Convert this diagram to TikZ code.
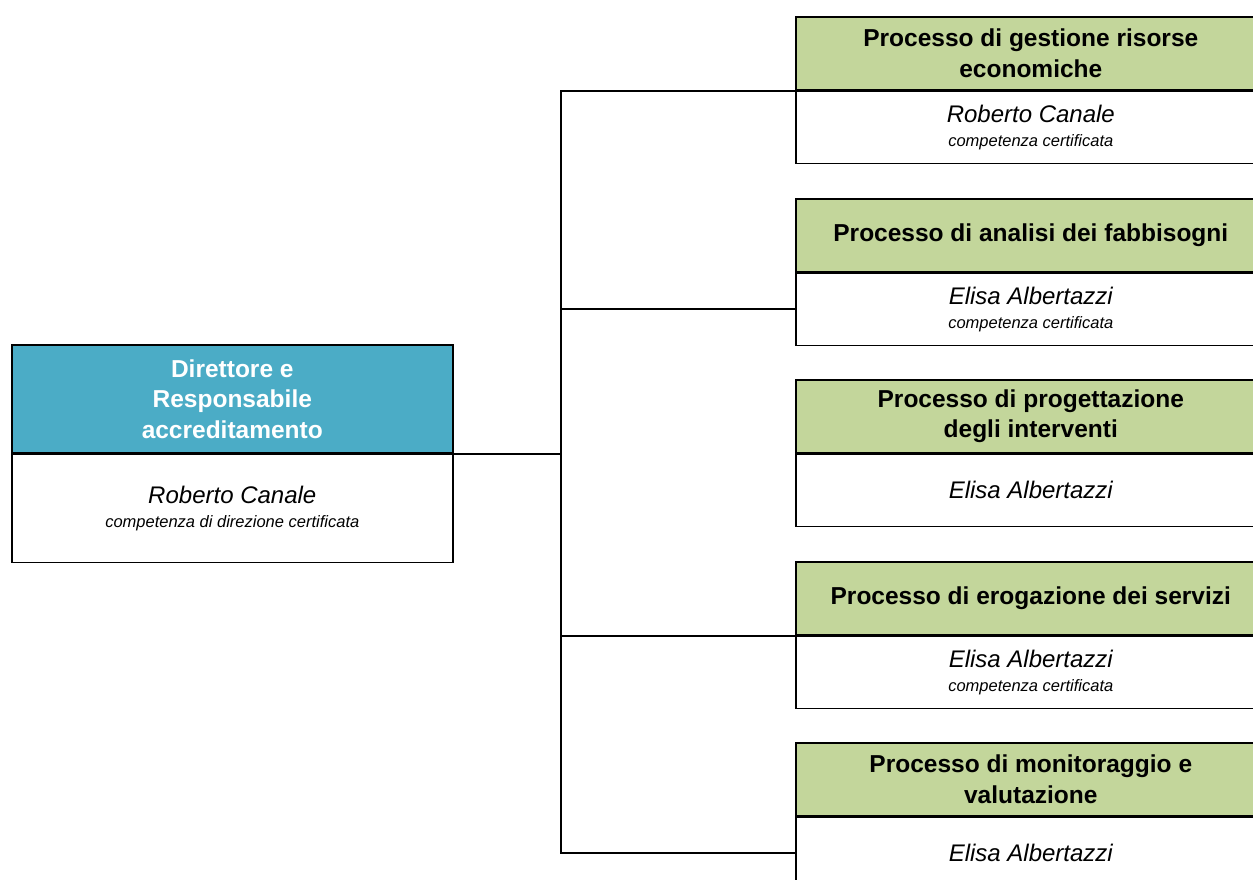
\documentclass[tikz,border=0pt]{standalone}
\usepackage{fontspec}
\setmainfont{Liberation Sans}
\definecolor{hdrgreen}{HTML}{C3D69B}
\definecolor{hdrteal}{HTML}{4BACC6}
\newcommand\pname[1]{{\fontsize{24}{26}\selectfont\itshape #1}}
\newcommand\pcert[1]{{\fontsize{16.5}{22}\selectfont\itshape #1}}
\begin{document}
\begin{tikzpicture}[x=1pt,y=-1pt,
  box/.style={draw=black,line width=1.6pt,inner sep=0pt,align=center,anchor=north west},
  ghdr/.style={box,fill=hdrgreen,minimum width=470pt,minimum height=73pt,
    font=\fontsize{24.5}{30.5}\selectfont\bfseries},
  gbody/.style={box,fill=white,minimum width=470pt,minimum height=72pt},
  thdr/.style={box,fill=hdrteal,text=white,minimum width=441pt,minimum height=108pt,
    font=\fontsize{24.5}{30.5}\selectfont\bfseries},
  tbody/.style={box,fill=white,minimum width=441pt,minimum height=108pt},
  link/.style={draw=black,line width=2pt}]
\useasboundingbox (0,0) rectangle (1253,879);
\clip (0,0) rectangle (1253,879);
\fill[white] (0,0) rectangle (1253,879);
% left box
\node[thdr] (hL) at (11,344) {Direttore e\\Responsabile\\accreditamento};
\node[tbody] (bL) at (hL.south west) {\pname{Roberto Canale}\\[10.5pt]\pcert{competenza di direzione certificata}};
% right boxes
\node[ghdr] (h1) at (795,16) {Processo di gestione risorse\\economiche};
\node[gbody] (b1) at (h1.south west) {\pname{Roberto Canale}\\[10.5pt]\pcert{competenza certificata}};
\node[ghdr] (h2) at (795,198) {Processo di analisi dei fabbisogni};
\node[gbody] (b2) at (h2.south west) {\pname{Elisa Albertazzi}\\[10.5pt]\pcert{competenza certificata}};
\node[ghdr] (h3) at (795,379) {Processo di progettazione\\degli interventi};
\node[gbody] (b3) at (h3.south west) {\pname{Elisa Albertazzi}};
\node[ghdr] (h4) at (795,561) {Processo di erogazione dei servizi};
\node[gbody] (b4) at (h4.south west) {\pname{Elisa Albertazzi}\\[10.5pt]\pcert{competenza certificata}};
\node[ghdr] (h5) at (795,742) {Processo di monitoraggio e\\valutazione};
\node[gbody] (b5) at (h5.south west) {\pname{Elisa Albertazzi}};
% connectors
\coordinate (trunk) at (561,0);
\draw[link] (h1.south west) -- (h1.south west -| trunk) -- (b5.west -| trunk) -- (b5.west);
\draw[link] (b2.west) -- (b2.west -| trunk);
\draw[link] (h4.south west) -- (h4.south west -| trunk);
\draw[link] (hL.south east) -- (hL.south east -| trunk);
\end{tikzpicture}
\end{document}
